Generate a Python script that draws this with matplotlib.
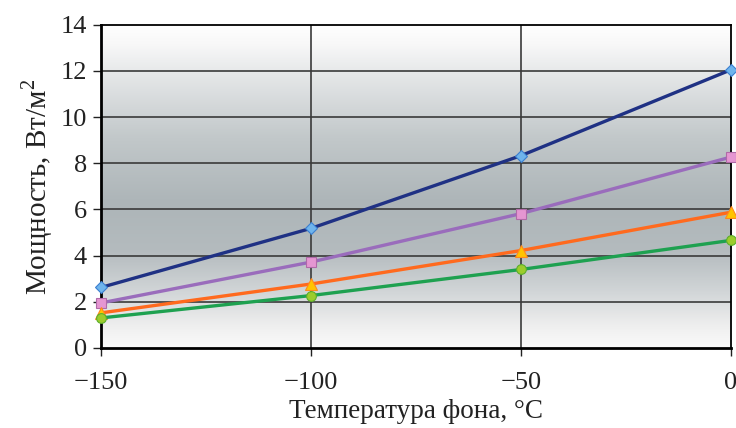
import matplotlib
matplotlib.use("Agg")
import matplotlib.pyplot as plt
import numpy as np
from matplotlib.colors import LinearSegmentedColormap

plt.rcParams['font.family'] = ['Liberation Serif', 'DejaVu Serif']
plt.rcParams['mathtext.fontset'] = 'custom'
plt.rcParams['mathtext.rm'] = 'Liberation Serif'

# data
temps = [-150, -100, -50, 0]
s_blue = [2.62, 5.18, 8.33, 12.05]
s_purple = [1.95, 3.72, 5.82, 8.27]
s_orange = [1.52, 2.77, 4.22, 5.88]
s_green = [1.30, 2.27, 3.40, 4.66]

xticks = [-150, -100, -50, 0]
yticks = list(range(0, 15, 2))

series = [
    (s_blue, '#1f3184', 'D', '#6fb4ec', '#3b7fd0', 6),
    (s_purple, '#9a6cbc', 's', '#e596d2', '#b06aa8', 7),
    (s_orange, '#ff6a1e', '^', '#ffc400', '#ff8a1e', 8),
    (s_green, '#1ea150', 'o', '#9ccc2c', '#5cae2c', 7),
]

fig = plt.figure(figsize=(7.36, 4.28), dpi=100)
ax = fig.add_axes([0.137, 0.187, 0.856, 0.755])

# background gradient (white at top and bottom, grey in the middle)
grad_cmap = LinearSegmentedColormap.from_list('bg', [
    (0.0, '#ffffff'), (0.06, '#f8f8f8'), (0.15, '#e6e8e9'),
    (0.35, '#c2c8ca'), (0.55, '#adb5b8'), (0.70, '#b4bbbe'),
    (0.83, '#d2d6d8'), (0.93, '#eeeeee'), (1.0, '#fafafa')])
grad = np.linspace(0, 1, 256).reshape(-1, 1)
ax.imshow(grad, cmap=grad_cmap, aspect='auto', extent=[-150, 0, 0, 14],
          origin='upper', zorder=0)

for y in yticks[1:-1]:
    ax.axhline(y, color='#3a3a3a', lw=1.2, zorder=1)
for x in [-100, -50]:
    ax.axvline(x, color='#3a3a3a', lw=1.2, zorder=1)

for vals, lc, mk, mfc, mec, ms in series:
    ax.plot(temps, vals, color=lc, lw=2.4, marker=mk, markersize=ms,
            markerfacecolor=mfc, markeredgecolor=mec, markeredgewidth=0.8,
            clip_on=False, zorder=3)

ax.set_xlim(-150, 0)
ax.set_ylim(0, 14)
ax.set_xticks(xticks)
ax.set_yticks(yticks)
ax.tick_params(direction='out', length=6, width=1, labelsize=19,
               colors='#222222')
ax.tick_params(axis='x', pad=11)
ax.tick_params(axis='y', pad=4)
for side in ['left', 'bottom']:
    ax.spines[side].set_linewidth(2)
for side in ['top', 'right']:
    ax.spines[side].set_linewidth(1.3)

ax.set_xlabel('Температура фона, °C', fontsize=19.5, color='#222222', labelpad=4)
ax.set_ylabel('Мощность, Вт/м$^2$', fontsize=21, color='#222222', labelpad=4)

fig.savefig('out.png', dpi=100)
